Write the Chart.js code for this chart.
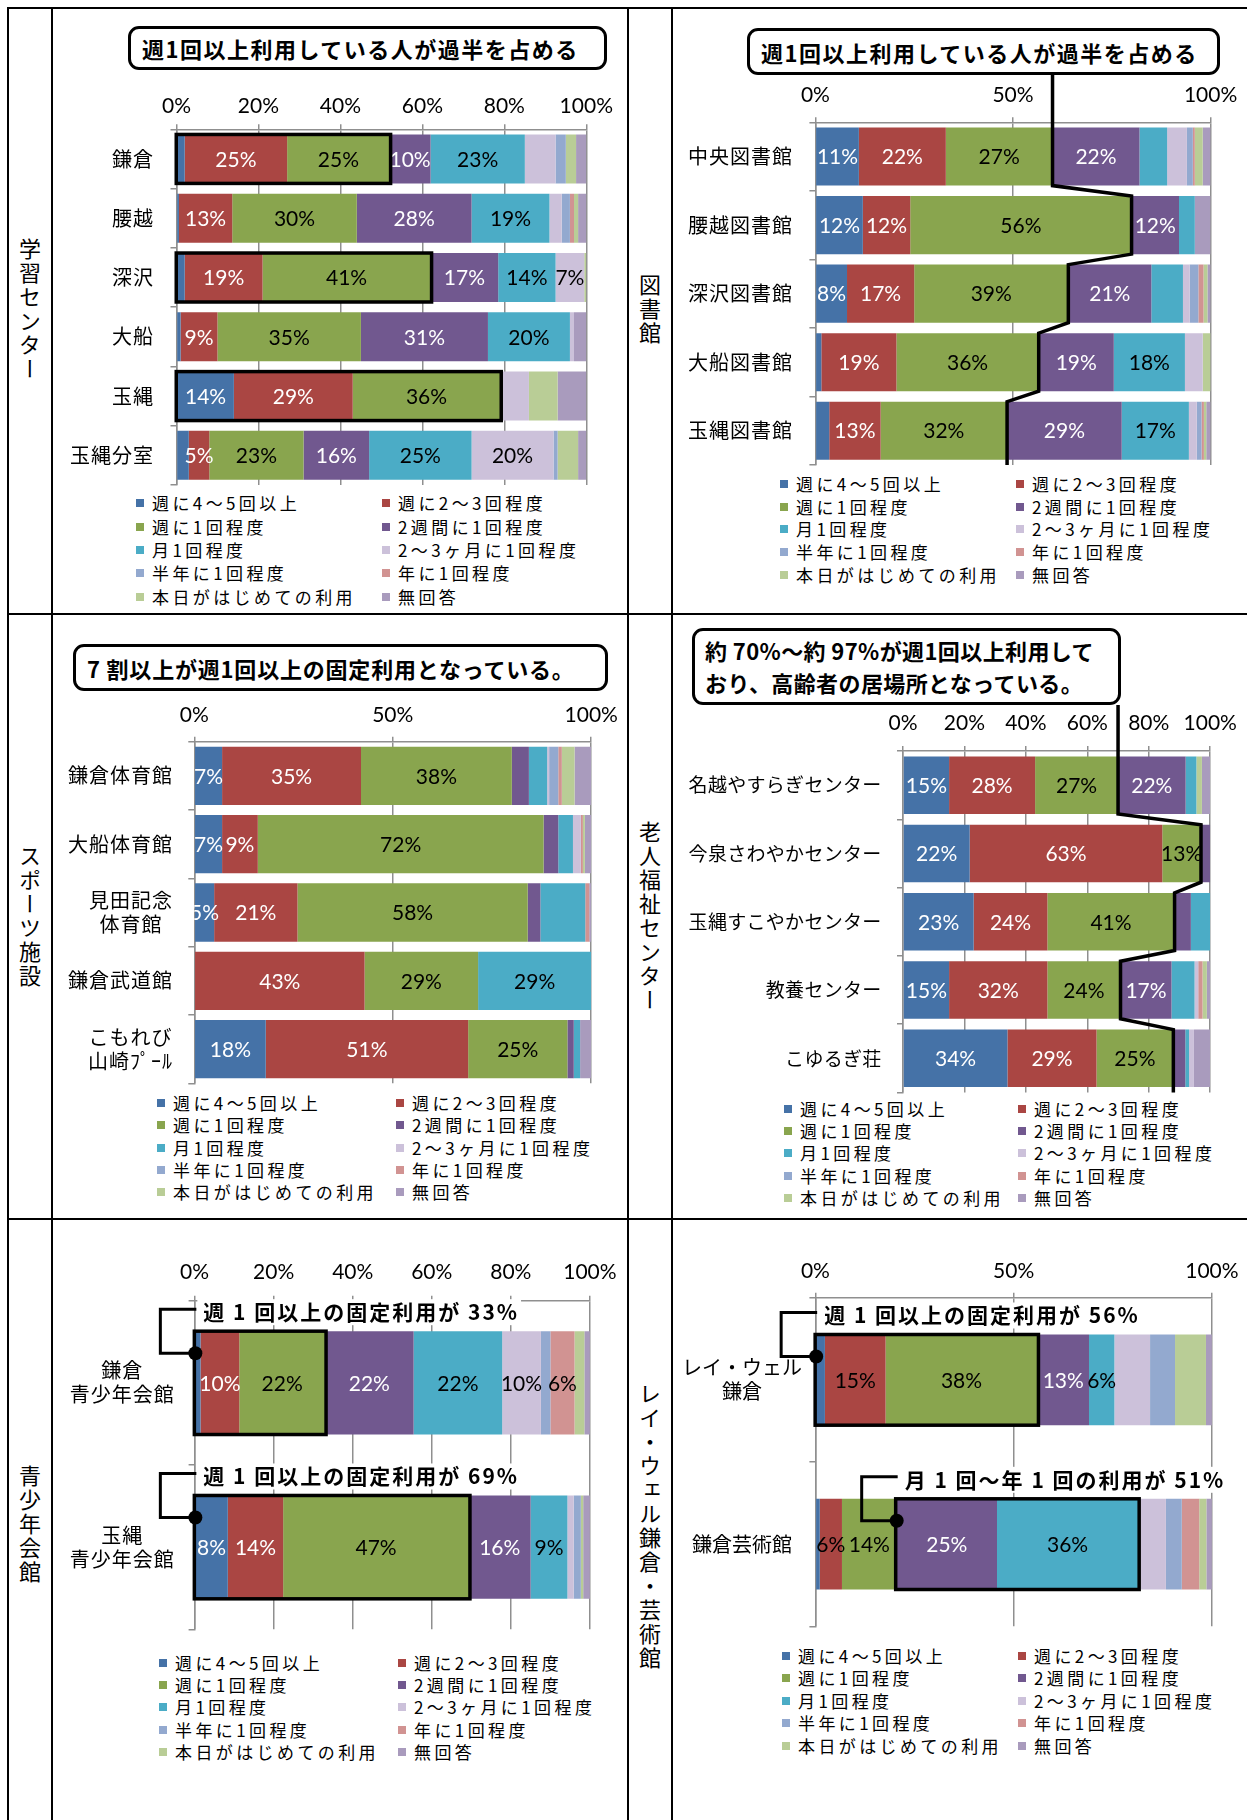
<!DOCTYPE html>
<html lang="ja">
<head>
<meta charset="utf-8">
<title>施設別 利用頻度</title>
<script src="https://cdn.jsdelivr.net/npm/chart.js@4.4.1/dist/chart.umd.min.js"></script>
<style>
  html, body { margin: 0; padding: 0; background: #fff; }
  body { position: relative; width: 1247px; height: 1820px; overflow: hidden;
         font-family: "Noto Sans CJK JP", sans-serif; color: #000; }
  .ln { position: absolute; background: #000; }
  canvas { position: absolute; z-index: 1; }
  .side { position: absolute; writing-mode: vertical-rl; text-orientation: upright;
          font-size: 22px; letter-spacing: 2px; line-height: 1; white-space: nowrap;
          transform: translate(-50%, -50%); }
  .title { position: absolute; box-sizing: border-box; border: 3px solid #000; border-radius: 11px;
           background: #fff; font-weight: 700; font-size: 22px; letter-spacing: 1.5px;
           white-space: nowrap; z-index: 2; display: flex; align-items: center; padding-left: 11px; }
  .sw { position: absolute; width: 8px; height: 8px; }
  .lg { position: absolute; font-size: 17px; letter-spacing: 3.4px; line-height: 24px; white-space: nowrap; }
</style>
</head>
<body>
<script>
// answer categories (legend order) and their colours
const SERIES = ['週に4～5回以上', '週に2～3回程度', '週に1回程度', '2週間に1回程度', '月1回程度',
  '2～3ヶ月に1回程度', '半年に1回程度', '年に1回程度', '本日がはじめての利用', '無回答'];
const COLORS = ['#4572A7', '#AA4643', '#89A54E', '#71588F', '#4BACC6',
  '#CCC1DA', '#93A9CF', '#D19392', '#B9CD96', '#A99BBD'];

// 学習センター (one row per facility, values in SERIES order, %)
const learnCats = ['鎌倉', '腰越', '深沢', '大船', '玉縄', '玉縄分室'];
const learnRows = [
  [2, 25, 25, 10, 23, 7.5, 2.5, 0, 2.5, 2.5],
  [0.6, 13, 30.4, 28, 19, 3, 2, 1, 1, 2],
  [2, 19, 41, 16.5, 14, 7, 0, 0, 0.5, 0],
  [1, 9, 35, 31, 20, 1, 0, 0, 0, 3],
  [14, 29, 36, 0, 0, 7, 0, 0, 7, 7],
  [3, 5, 23, 16, 25, 20, 1, 0, 5, 2]
];

// 図書館
const libCats = ['中央図書館', '腰越図書館', '深沢図書館', '大船図書館', '玉縄図書館'];
const libRows = [
  [11, 22, 27, 22, 7, 5, 1.5, 0.5, 2, 2],
  [12, 12, 56, 12, 4, 0, 0, 0, 0, 4],
  [8, 17, 39, 21, 8, 1.7, 2.2, 1.3, 1, 0.8],
  [1.5, 19, 36, 19, 18, 4.5, 0, 0, 2, 0],
  [3.5, 13, 32, 29, 17, 2, 1.2, 0.6, 0.6, 1.1]
];

// スポーツ施設
const sportCats = ['鎌倉体育館', '大船体育館', '見田記念\n体育館', '鎌倉武道館', 'こもれび\n山崎ﾌﾟｰﾙ'];
const sportRows = [
  [7, 35, 38, 4.3, 4.6, 0.5, 2.3, 0.9, 3.2, 4.2],
  [7, 9, 72, 3.7, 3.7, 2, 0, 0.5, 0.5, 1.6],
  [5, 21, 58, 3.2, 11.3, 0, 0, 1, 0, 0.5],
  [0, 42.9, 28.6, 0, 28.5, 0, 0, 0, 0, 0],
  [18, 51, 25, 1.6, 1.6, 0, 0, 0, 0, 2.8]
];

// 老人福祉センター
const elderCats = ['名越やすらぎセンター', '今泉さわやかセンター', '玉縄すこやかセンター', '教養センター', 'こゆるぎ荘'];
const elderRows = [
  [15, 28, 27, 22, 3.5, 0, 0, 0, 1.8, 2.7],
  [21.7, 62.7, 12.6, 3, 0, 0, 0, 0, 0, 0],
  [23, 24, 41.4, 5.3, 6.3, 0, 0, 0, 0, 0],
  [15, 32, 23.8, 16.6, 7.5, 1.2, 0, 1.4, 1.4, 1.1],
  [34, 29, 25, 3.9, 1.2, 1.6, 0, 0, 0, 5.3]
];

// 青少年会館
const youthCats = ['鎌倉\n青少年会館', '玉縄\n青少年会館'];
const youthRows = [
  [1.5, 9.8, 21.7, 22.4, 22.4, 9.8, 2.4, 6.1, 2.5, 1.4],
  [8.4, 14, 47, 15.6, 9.3, 1.6, 1.8, 0, 0.6, 1.7]
];

// レイ・ウェル鎌倉・芸術館
const artCats = ['レイ・ウェル\n鎌倉', '鎌倉芸術館'];
const artRows = [
  [2.4, 15.3, 38.3, 13, 6.4, 9, 6.3, 0, 7.8, 1.5],
  [1.1, 5.6, 13.8, 25.3, 35.6, 7, 4, 4.4, 1.8, 1.4]
];

const LABEL_INK = ['#fff', '#fff', '#000', '#fff', '#000', '#000', '#000', '#000', '#000', '#000'];
const GRID = '#8f8f8f';
const NUM_FONT = 'Lato, "Noto Sans", sans-serif';
const JP_FONT = '"Noto Sans CJK JP", sans-serif';

function el(cls, css, text) {
  const d = document.createElement('div');
  d.className = cls;
  Object.assign(d.style, css);
  if (text != null) d.textContent = text;
  document.body.appendChild(d);
  return d;
}

// table frame
[[7, 7, 1240, 2], [7, 613, 1240, 2], [7, 1218, 1240, 2]].forEach(([x, y, w, h]) =>
  el('ln', { left: x + 'px', top: y + 'px', width: w + 'px', height: h + 'px' }));
[7, 51, 627, 671].forEach(x =>
  el('ln', { left: x + 'px', top: '7px', width: '2px', height: '1813px' }));

// row headings
[['学習センター', 30, 310], ['図書館', 650, 310], ['スポーツ施設', 30, 917],
 ['老人福祉センター', 650, 917], ['青少年会館', 30, 1525], ['レイ・ウェル鎌倉・芸術館', 650, 1527]]
  .forEach(([t, x, y]) => el('side', { left: x + 'px', top: y + 'px' }, t));

function title(text, x, y, w, h, extra) {
  return el('title', Object.assign({ left: x + 'px', top: y + 'px', width: w + 'px', height: h + 'px' }, extra || {}), text);
}

function legend(x1, x2, y0, dy) {
  SERIES.forEach((name, i) => {
    const sx = i % 2 ? x2 : x1;
    const cy = y0 + Math.floor(i / 2) * dy;
    el('sw', { left: sx + 'px', top: (cy - 4) + 'px', background: COLORS[i] });
    el('lg', { left: (sx + 16) + 'px', top: (cy - 12) + 'px' }, name);
  });
}

// labels, highlight frames, guide line and callouts drawn on top of the bars
function decor(p) {
  const [rx, ry] = p.rect;
  return {
    id: 'decor',
    afterDatasetsDraw(chart) {
      const { ctx, chartArea: a, scales: { y } } = chart;
      const bar = (s, r) => chart.getDatasetMeta(s).data[r];
      const top = b => b.y - b.height / 2;
      const bottom = b => b.y + b.height / 2;

      ctx.save();
      ctx.beginPath();
      ctx.rect(a.left, a.top, a.right - a.left, a.bottom - a.top);
      ctx.clip();
      ctx.font = '21px ' + NUM_FONT;
      ctx.textAlign = 'center';
      ctx.textBaseline = 'middle';
      p.shown.forEach((list, r) => list.forEach(s => {
        const b = bar(s, r);
        ctx.fillStyle = (p.ink || LABEL_INK)[s];
        ctx.fillText(Math.round(p.rows[r][s]) + '%', (b.x + b.base) / 2, b.y + 1);
      }));
      ctx.restore();

      ctx.save();
      ctx.strokeStyle = '#000';
      ctx.fillStyle = '#000';
      ctx.lineWidth = 3.5;
      (p.boxes || []).forEach(([r, s0, s1]) => {
        const b0 = bar(s0, r), b1 = bar(s1, r);
        ctx.strokeRect(b0.base - 1, top(b0), b1.x - b0.base + 2, b0.height);
      });

      // step line along the end of "週に1回程度"
      if (p.guideFrom != null) {
        ctx.beginPath();
        p.rows.forEach((_, r) => {
          const b = bar(2, r);
          if (r === 0) ctx.moveTo(b.x, p.guideFrom - ry);
          else ctx.lineTo(b.x, top(b));
          ctx.lineTo(b.x, r === p.rows.length - 1 ? a.bottom : bottom(b));
        });
        ctx.lineJoin = 'miter';
        ctx.stroke();
      }

      (p.callouts || []).forEach(c => {
        const b = bar(c.from, c.row);
        const dx = b.base, dy = top(b) + 22, ty = top(b) - 19;
        const pct = Math.round(c.sum.reduce((acc, s) => acc + p.rows[c.row][s], 0));
        const text = c.text + pct + '%';
        ctx.font = 'bold 21px ' + JP_FONT;
        ctx.letterSpacing = '2px';
        const w = ctx.measureText(text).width;
        const tx = dx + 8;
        ctx.fillStyle = '#fff';
        ctx.fillRect(tx - 6, ty - 13, w + 8, 26);
        ctx.fillStyle = '#000';
        ctx.textAlign = 'left';
        ctx.textBaseline = 'middle';
        ctx.fillText(text, tx, ty);
        ctx.letterSpacing = '0px';
        ctx.beginPath();
        ctx.moveTo(tx - 7, ty - 3);
        ctx.lineTo(dx - 35, ty - 3);
        ctx.lineTo(dx - 35, dy);
        ctx.lineTo(dx, dy);
        ctx.lineWidth = 3;
        ctx.stroke();
        ctx.beginPath();
        ctx.arc(dx, dy, 7, 0, Math.PI * 2);
        ctx.fill();
      });

      // facility names
      ctx.font = (p.catSize || 20) + 'px ' + JP_FONT;
      ctx.letterSpacing = (p.catGap != null ? p.catGap : 1) + 'px';
      ctx.fillStyle = '#000';
      ctx.textAlign = 'center';
      ctx.textBaseline = 'middle';
      p.cats.forEach((name, r) => {
        const lines = name.split('\n');
        const ws = lines.map(l => ctx.measureText(l).width);
        const cx = p.catCenter != null ? p.catCenter - rx : p.catRight - rx - Math.max(...ws) / 2;
        const yc = y.getPixelForValue(r);
        lines.forEach((l, k) => ctx.fillText(l, cx, yc + (k - (lines.length - 1) / 2) * 24));
      });
      ctx.letterSpacing = '0px';
      ctx.restore();
    }
  };
}

function panel(p) {
  const [rx, ry, rw, rh] = p.rect;
  const [ax0, ay0, ax1, ay1] = p.area;
  const cv = document.createElement('canvas');
  cv.width = rw;
  cv.height = rh;
  cv.style.left = rx + 'px';
  cv.style.top = ry + 'px';
  document.body.appendChild(cv);
  new Chart(cv, {
    type: 'bar',
    data: {
      labels: p.cats,
      datasets: SERIES.map((name, s) => ({
        label: name,
        data: p.rows.map(r => r[s]),
        backgroundColor: COLORS[s],
        borderWidth: 0,
        categoryPercentage: 1,
        barPercentage: p.bar
      }))
    },
    options: {
      indexAxis: 'y',
      responsive: false,
      animation: false,
      devicePixelRatio: 1,
      events: [],
      layout: { padding: { left: 0, top: 0, right: rx + rw - ax1, bottom: ry + rh - ay1 } },
      plugins: { legend: { display: false }, tooltip: { enabled: false } },
      scales: {
        x: {
          position: 'top',
          stacked: true,
          min: 0,
          max: 100,
          ticks: { stepSize: p.step, callback: v => v + '%', color: '#000', padding: p.tickPad - 0.6,
                   maxRotation: 0, font: { family: NUM_FONT, size: 21 } },
          grid: { color: GRID, lineWidth: 1.5, tickLength: 5 },
          border: { color: GRID, width: 1.5 },
          afterFit: s => { s.height = ay0 - ry; }
        },
        y: {
          stacked: true,
          ticks: { display: false },
          grid: { drawOnChartArea: false, color: GRID, lineWidth: 1.5, tickLength: 6 },
          border: { color: GRID, width: 1.5 },
          afterFit: s => { s.width = ax0 - rx; }
        }
      }
    },
    plugins: [decor(p)]
  });
}

// 学習センター
title('週1回以上利用している人が過半を占める', 128, 26, 479, 44);
panel({
  rect: [53, 9, 574, 604], area: [176.5, 129.3, 586.3, 485], step: 20, tickPad: 5.6, bar: 0.826,
  cats: learnCats, rows: learnRows, catRight: 154,
  shown: [[1, 2, 3, 4], [1, 2, 3, 4], [1, 2, 3, 4, 5], [1, 2, 3, 4], [0, 1, 2], [1, 2, 3, 4, 5]],
  boxes: [[0, 0, 2], [2, 0, 2], [4, 0, 2]]
});
legend(136, 382, 503.3, 23.3);

// 図書館
title('週1回以上利用している人が過半を占める', 747, 28, 473, 47);
panel({
  rect: [673, 9, 574, 604], area: [815.4, 122.3, 1213.5, 465], step: 50, tickPad: 10.3, bar: 0.847,
  cats: libCats, rows: libRows, catRight: 793, guideFrom: 75,
  shown: [[0, 1, 2, 3], [0, 1, 2, 3], [0, 1, 2, 3], [1, 2, 3, 4], [1, 2, 3, 4]]
});
legend(780, 1016, 484, 22.7);

// スポーツ施設
title('7 割以上が週1回以上の固定利用となっている。', 73, 644, 535, 47, { letterSpacing: '0.8px' });
panel({
  rect: [53, 615, 574, 603], area: [194.3, 741.7, 593.2, 1083.3], step: 50, tickPad: 9.7, bar: 0.854,
  cats: sportCats, rows: sportRows, catRight: 173,
  shown: [[0, 1, 2], [0, 1, 2], [0, 1, 2], [1, 2, 4], [0, 1, 2]]
});
legend(157, 396, 1103, 22.3);

// 老人福祉センター
const weekly = elderRows.map(r => r[0] + r[1] + r[2]);
const elderNote = title('', 692, 628, 429, 77, { letterSpacing: '0.4px', lineHeight: '31.6px', paddingLeft: '10px' });
elderNote.innerHTML = '約 ' + Math.round(Math.min(...weekly)) + '%～約 ' + Math.round(Math.max(...weekly)) +
  '%が週1回以上利用して<br>おり、高齢者の居場所となっている。';
panel({
  rect: [673, 615, 574, 603], area: [903, 751, 1216.6, 1092.5], step: 20, tickPad: 10.7, bar: 0.842,
  cats: elderCats, rows: elderRows, catRight: 881.6, catSize: 19, catGap: 0.3, guideFrom: 705,
  shown: [[0, 1, 2, 3], [0, 1, 2], [0, 1, 2], [0, 1, 2, 3], [0, 1, 2]]
});
legend(784, 1018, 1108.8, 22.3);

// 青少年会館
panel({
  rect: [53, 1220, 574, 600], area: [194.6, 1300.7, 596.1, 1629.3], step: 20, tickPad: 11, bar: 0.629,
  cats: youthCats, rows: youthRows, catCenter: 122.3,
  shown: [[1, 2, 3, 4, 5, 7], [0, 1, 2, 3, 4]],
  boxes: [[0, 0, 2], [1, 0, 2]],
  callouts: [
    { row: 0, from: 0, sum: [0, 1, 2], text: '週 1 回以上の固定利用が ' },
    { row: 1, from: 0, sum: [0, 1, 2], text: '週 1 回以上の固定利用が ' }
  ]
});
legend(159, 398, 1662.6, 22.4);

// レイ・ウェル鎌倉・芸術館
panel({
  rect: [673, 1220, 574, 600], area: [815.4, 1297.7, 1214, 1626.3], step: 50, tickPad: 9, bar: 0.552,
  cats: artCats, rows: artRows, catCenter: 742, catGap: 0,
  ink: ['#fff', '#000', '#000', '#fff', '#000', '#000', '#000', '#000', '#000', '#000'],
  shown: [[1, 2, 3, 4], [1, 2, 3, 4]],
  boxes: [[0, 0, 2], [1, 3, 4]],
  callouts: [
    { row: 0, from: 0, sum: [0, 1, 2], text: '週 1 回以上の固定利用が ' },
    { row: 1, from: 3, sum: [4, 5, 6, 7], text: '月 1 回～年 1 回の利用が ' }
  ]
});
legend(782, 1018, 1655.6, 22.6);
</script>
</body>
</html>
